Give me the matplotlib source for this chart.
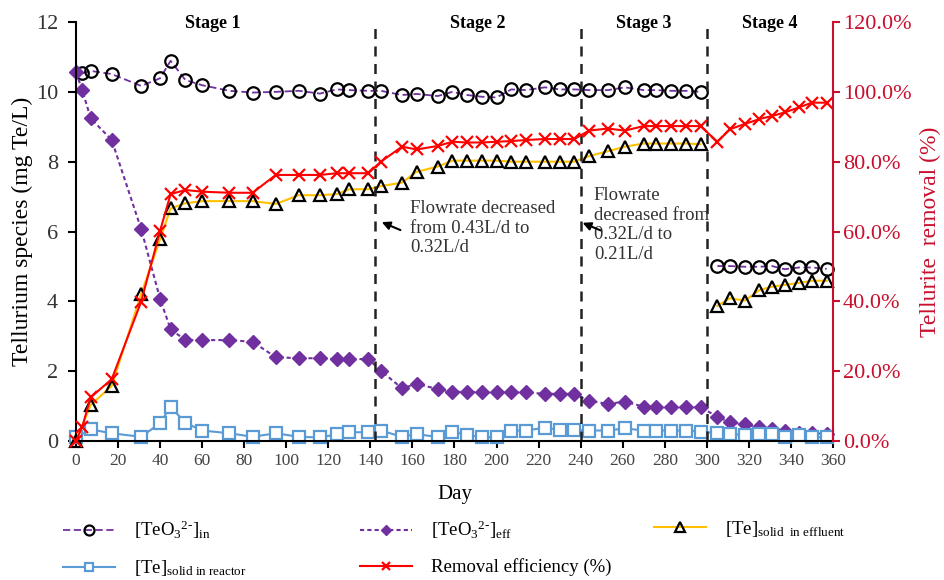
import numpy as np
import matplotlib.pyplot as plt
from matplotlib.ticker import FuncFormatter

plt.rcParams['font.family'] = ['Liberation Serif', 'DejaVu Serif']
plt.rcParams['mathtext.fontset'] = 'custom'
plt.rcParams['mathtext.rm'] = 'Liberation Serif'
plt.rcParams['mathtext.it'] = 'Liberation Serif:italic'
plt.rcParams['mathtext.bf'] = 'Liberation Serif:bold'

# Sampling days (four stages)
days = [0, 3, 7, 17, 31, 40, 45, 52, 60, 73, 84, 95, 106, 116, 124, 130, 139, 145,
        155, 162, 172, 179, 186, 193, 200, 207, 214, 223, 230, 237,
        244, 253, 261, 270, 276, 283, 290, 297,
        305, 311, 318, 325, 331, 337, 344, 350, 357]

# [TeO3 2-] influent (mg Te/L)
teo3_in = [np.nan, 10.53, 10.60, 10.51, 10.17, 10.39, 10.89, 10.34, 10.19, 10.03, 9.98, 10.00,
           10.03, 9.95, 10.07, 10.05, 10.03, 10.03,
           9.91, 9.94, 9.88, 10.00, 9.91, 9.86, 9.84, 10.07, 10.05, 10.13, 10.07, 10.07,
           10.05, 10.05, 10.13, 10.05, 10.05, 10.03, 10.03, 10.00,
           5.01, 5.01, 4.99, 4.99, 5.01, 4.92, 4.97, 4.97, 4.93]

# [TeO3 2-] effluent (mg Te/L)
teo3_eff = [10.56, 10.05, 9.24, 8.62, 6.07, 4.07, 3.20, 2.89, 2.89, 2.89, 2.84, 2.40,
            2.37, 2.37, 2.34, 2.34, 2.35, 2.01,
            1.51, 1.63, 1.49, 1.41, 1.41, 1.39, 1.39, 1.39, 1.39, 1.35, 1.35, 1.35,
            1.15, 1.06, 1.13, 0.98, 0.98, 0.98, 0.98, 0.96,
            0.70, 0.53, 0.48, 0.39, 0.34, 0.30, 0.24, 0.22, 0.19]

# [Te] solid in effluent (mg Te/L)
te_solid_eff = [0.0, np.nan, 1.03, 1.58, 4.21, 5.78, 6.66, 6.81, 6.87, 6.87, 6.87, 6.79,
                7.04, 7.04, 7.07, 7.21, 7.21, 7.30,
                7.40, 7.71, 7.86, 8.03, 8.03, 8.03, 8.03, 8.00, 8.00, 8.00, 8.00, 8.00,
                8.16, 8.30, 8.43, 8.52, 8.52, 8.52, 8.52, 8.50,
                3.87, 4.09, 4.02, 4.32, 4.42, 4.47, 4.53, 4.59, 4.59]

# [Te] solid in reactor (mg Te/L)
te_solid_reac = [0.10, np.nan, 0.33, 0.22, 0.12, 0.51, 0.98, 0.52, 0.30, 0.22, 0.12, 0.22,
                 0.12, 0.10, 0.19, 0.25, 0.25, 0.30,
                 0.12, 0.20, 0.11, 0.27, 0.17, 0.11, 0.11, 0.30, 0.30, 0.38, 0.32, 0.32,
                 0.30, 0.30, 0.36, 0.30, 0.30, 0.30, 0.30, 0.27,
                 0.22, 0.20, 0.17, 0.20, 0.20, 0.11, 0.17, 0.11, 0.11]

# Removal efficiency (%)
removal = [0.0, 4.1, 12.5, 17.7, 39.9, 60.2, 70.7, 71.9, 71.4, 71.1, 71.1, 76.2,
           76.2, 76.2, 76.7, 76.7, 76.7, 80.0,
           84.3, 83.5, 84.5, 85.7, 85.5, 85.5, 85.7, 85.9, 86.2, 86.5, 86.5, 86.5,
           88.9, 89.5, 88.9, 90.2, 90.2, 90.2, 90.2, 90.2,
           85.7, 89.3, 90.8, 92.2, 93.1, 94.1, 95.6, 96.9, 96.9]

stage_bounds = [142, 240, 300]
stage_names = ['Stage 1', 'Stage 2', 'Stage 3', 'Stage 4']
stage_label_x = [65, 191, 270, 330]

d = np.array(days)


def draw(axis, vals, label, split=False, **kw):
    v = np.array(vals, dtype=float)
    ok = ~np.isnan(v)
    parts = [d < 300, d > 300] if split else [np.ones(len(d), bool)]
    first = None
    for p in parts:
        m = p & ok
        ln, = axis.plot(d[m], v[m], clip_on=False,
                        label=label if first is None else '_nolegend_', **kw)
        if first is None:
            first = ln
    return first


fig = plt.figure(figsize=(9.45, 5.8), dpi=100)
ax = fig.add_axes([0.0804, 0.2397, 0.8011, 0.7223])
ax2 = ax.twinx()

purple = '#7030A0'
h_in = draw(ax, teo3_in, r'[TeO$_3$$^{2\text{-}}$]$_{\mathrm{in}}$', split=True,
            color=purple, ls=(0, (4, 2)), lw=1.3, marker='o', ms=9,
            mfc='none', mec='black', mew=1.6)
h_eff = draw(ax, teo3_eff, r'[TeO$_3$$^{2\text{-}}$]$_{\mathrm{eff}}$',
             color=purple, ls=(0, (2, 1.5)), lw=1.5, marker='D', ms=7,
             mfc=purple, mec=purple)
h_reac = draw(ax, te_solid_reac, r'[Te]$_{\mathrm{solid\ in\ reactor}}$',
              color='#5B9BD5', lw=1.5, marker='s', ms=8,
              mfc='white', mec='#5B9BD5', mew=1.6)
h_sol = draw(ax, te_solid_eff, r'[Te]$_{\mathrm{solid\ \ in\ effluent}}$', split=True,
             color='#FFC000', lw=1.5, marker='^', ms=9,
             mfc='none', mec='black', mew=1.6)
h_rem = draw(ax2, removal, 'Removal efficiency (%)',
             color='#FF0000', lw=1.5, marker='x', ms=8, mew=1.6)

for b in stage_bounds:
    ax.plot([b, b], [0, 12], color='#222222', ls=(0, (4, 3)), lw=1.8)
for x, name in zip(stage_label_x, stage_names):
    ax.text(x, 11.95, name, ha='center', va='center', fontsize=13, fontweight='bold')

# Flowrate notes
ax.text(158.8, 6.9, 'Flowrate decreased\nfrom 0.43L/d to\n0.32L/d', ha='left', va='top',
        fontsize=13.5, color='#333333', linespacing=1.2)
ax.annotate('', xy=(144.2, 6.30), xytext=(155.5, 6.01),
            arrowprops=dict(arrowstyle='-|>', color='black', lw=1.5, mutation_scale=12))
ax.text(246.3, 7.27, 'Flowrate\ndecreased from\n0.32L/d to\n0.21L/d', ha='left', va='top',
        fontsize=13.5, color='#333333', linespacing=1.2)
ax.annotate('', xy=(239.7, 6.28), xytext=(250.7, 6.0),
            arrowprops=dict(arrowstyle='-|>', color='black', lw=1.5, mutation_scale=12))

# Axes
ax.set_xlim(0, 360)
ax.set_ylim(0, 12)
ax2.set_ylim(0, 120)
ax.set_xticks(range(0, 361, 20))
ax.set_yticks(range(0, 13, 2))
ax2.set_yticks(range(0, 121, 20))
ax2.yaxis.set_major_formatter(FuncFormatter(lambda v, p: f'{v:.1f}%'))

ax.tick_params(axis='x', labelsize=12.5, labelcolor='#444444', length=5, width=1.5)
ax.tick_params(axis='y', labelsize=16, labelcolor='#333333', length=6, width=1.5, pad=7)
red = '#C8102E'
ax2.tick_params(axis='y', labelsize=16, labelcolor=red, color=red, length=5, width=1.5, pad=2)

for a in (ax, ax2):
    a.spines['top'].set_visible(False)
ax.spines['right'].set_visible(False)
ax.spines['left'].set_linewidth(1.5)
ax.spines['bottom'].set_linewidth(1.5)
ax2.spines['left'].set_visible(False)
ax2.spines['bottom'].set_visible(False)
ax2.spines['right'].set_color(red)
ax2.spines['right'].set_linewidth(1.5)

ax.set_xlabel('Day', fontsize=15, labelpad=12)
ax.set_ylabel('Tellurium species (mg Te/L)', fontsize=17, labelpad=2)
ax2.set_ylabel('Tellurite  removal (%)', fontsize=17, color=red, labelpad=6)

# Legend in three columns under the plot
leg_kw = dict(frameon=False, fontsize=13.5, handlelength=2.8, handletextpad=1.0,
              borderpad=0, borderaxespad=0, labelspacing=0.9, loc='upper left',
              markerscale=0.8)
fig.legend(handles=[h_in, h_reac], bbox_to_anchor=(63 / 945, 1 - 519 / 580), **leg_kw)
fig.legend(handles=[h_eff, h_rem], bbox_to_anchor=(360 / 945, 1 - 519 / 580), **leg_kw)
fig.legend(handles=[h_sol], bbox_to_anchor=(654 / 945, 1 - 519 / 580), **leg_kw)

fig.savefig('out.png', dpi=100)
